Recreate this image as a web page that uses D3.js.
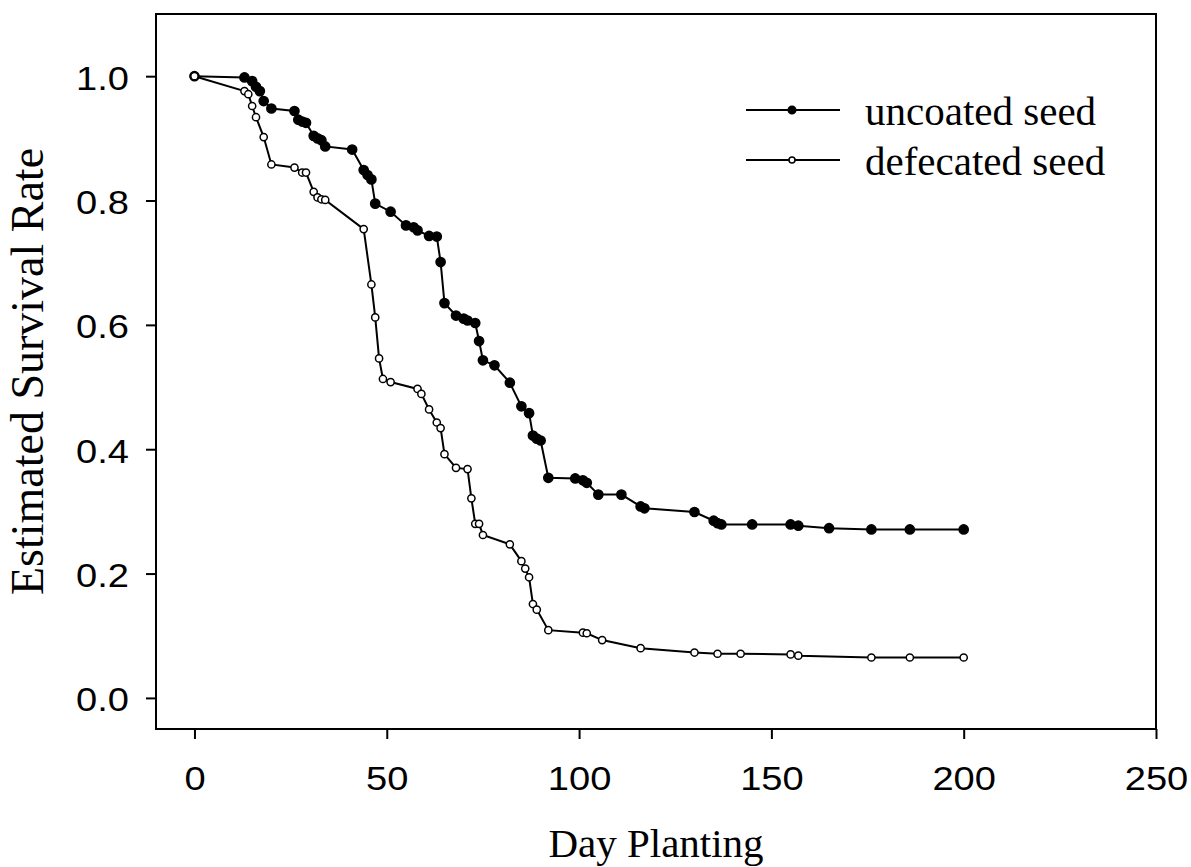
<!DOCTYPE html>
<html>
<head>
<meta charset="utf-8">
<script src="https://cdn.jsdelivr.net/npm/d3@7"></script>
<style>
  body { margin: 0; background: #fff; }
  svg { display: block; }
</style>
</head>
<body>
<svg id="chart"></svg>
<script>
// Data
const seriesNames = ["uncoated seed", "defecated seed"];

const uncoatedDays = [0, 13, 15, 16, 17, 18, 20, 26, 27, 28, 29, 31, 32, 33, 34, 41, 44, 45, 46, 47,
  51, 55, 57, 58, 61, 63, 64, 65, 68, 70, 71, 73, 74, 75, 78, 82, 85, 87, 88, 89, 90, 92, 99, 101,
  102, 105, 111, 116, 117, 130, 135, 136, 137, 145, 155, 157, 165, 176, 186, 200];
const uncoatedRate = [1.0, 0.998, 0.992, 0.983, 0.976, 0.960, 0.948, 0.944, 0.930, 0.927, 0.925,
  0.904, 0.900, 0.897, 0.887, 0.882, 0.849, 0.841, 0.834, 0.795, 0.782, 0.760, 0.757, 0.752, 0.743,
  0.742, 0.701, 0.635, 0.615, 0.610, 0.607, 0.603, 0.574, 0.543, 0.535, 0.507, 0.469, 0.458, 0.422,
  0.417, 0.414, 0.354, 0.353, 0.350, 0.346, 0.327, 0.327, 0.308, 0.305, 0.299, 0.285, 0.281, 0.279,
  0.279, 0.279, 0.277, 0.273, 0.271, 0.271, 0.271];

const defecatedDays = [0, 13, 14, 15, 16, 18, 20, 26, 28, 29, 31, 32, 33, 34, 44, 46, 47, 48, 49,
  51, 58, 59, 61, 63, 64, 65, 68, 71, 72, 73, 74, 75, 82, 85, 86, 87, 88, 89, 92, 101, 102, 106,
  116, 130, 136, 142, 155, 157, 176, 186, 200];
const defecatedRate = [1.0, 0.976, 0.971, 0.952, 0.934, 0.902, 0.858, 0.853, 0.845, 0.845, 0.814,
  0.805, 0.802, 0.801, 0.754, 0.665, 0.612, 0.546, 0.513, 0.508, 0.497, 0.489, 0.464, 0.443, 0.434,
  0.392, 0.370, 0.368, 0.321, 0.280, 0.280, 0.262, 0.247, 0.220, 0.208, 0.194, 0.151, 0.142, 0.109,
  0.105, 0.104, 0.093, 0.080, 0.073, 0.071, 0.071, 0.070, 0.068, 0.065, 0.065, 0.065];

const xTicks = [0, 50, 100, 150, 200, 250];
const yTicks = [0.0, 0.2, 0.4, 0.6, 0.8, 1.0];

// Layout
const width = 1191, height = 867;
const margin = { top: 14, right: 35, bottom: 138, left: 156 };
const innerW = width - margin.left - margin.right;
const innerH = height - margin.top - margin.bottom;

const svg = d3.select("#chart").attr("width", width).attr("height", height);
const chart = svg.append("g").attr("transform", `translate(${margin.left},${margin.top})`);

const xScale = d3.scaleLinear().domain([-10, 250]).range([0, innerW]);
const yScale = d3.scaleLinear().domain([-0.05, 1.1]).range([innerH, 0]);

const sansFont = "'Liberation Sans', Arial, Helvetica, sans-serif";
const serifFont = "'Liberation Serif', 'Times New Roman', serif";

// x axis
const xAxisG = chart.append("g")
  .attr("transform", `translate(0,${innerH})`)
  .call(d3.axisBottom(xScale).tickValues(xTicks).tickSize(10).tickSizeOuter(0).tickFormat(d3.format("d")));
xAxisG.select(".domain").remove();
xAxisG.selectAll("line").attr("stroke", "#000").attr("stroke-width", 2);
xAxisG.selectAll("text")
  .attr("y", 0).attr("dy", 0)
  .attr("transform", "translate(0,61) scale(1.12,1)")
  .style("font-family", sansFont).style("font-size", "34px").attr("fill", "#000");

// y axis
const yAxisG = chart.append("g")
  .call(d3.axisLeft(yScale).tickValues(yTicks).tickSize(10).tickSizeOuter(0).tickFormat(d3.format(".1f")));
yAxisG.select(".domain").remove();
yAxisG.selectAll("line").attr("stroke", "#000").attr("stroke-width", 2);
yAxisG.selectAll("text")
  .attr("x", 0).attr("dy", 0)
  .attr("transform", "translate(-27,13) scale(1.12,1)")
  .style("font-family", sansFont).style("font-size", "34px").attr("fill", "#000");

// frame
chart.append("rect")
  .attr("width", innerW).attr("height", innerH)
  .attr("fill", "none").attr("stroke", "#000").attr("stroke-width", 2);

// axis titles
svg.append("text")
  .attr("x", margin.left + innerW / 2).attr("y", 857)
  .attr("text-anchor", "middle")
  .style("font-family", serifFont).style("font-size", "41px")
  .text("Day Planting");

svg.append("text")
  .attr("transform", `translate(43,${margin.top + innerH / 2}) rotate(-90)`)
  .attr("text-anchor", "middle")
  .style("font-family", serifFont).style("font-size", "46px")
  .text("Estimated Survival Rate");

// series
const series = [
  { name: seriesNames[0], days: uncoatedDays, rate: uncoatedRate, fill: "#000", r: 4.6 },
  { name: seriesNames[1], days: defecatedDays, rate: defecatedRate, fill: "#fff", r: 3.6 }
];

const line = d3.line().x(d => xScale(d[0])).y(d => yScale(d[1]));

series.forEach(s => {
  const pts = s.days.map((d, i) => [d, s.rate[i]]);
  chart.append("path")
    .datum(pts)
    .attr("d", line)
    .attr("fill", "none").attr("stroke", "#000").attr("stroke-width", 2);
  chart.selectAll(null)
    .data(pts)
    .join("circle")
    .attr("cx", d => xScale(d[0]))
    .attr("cy", d => yScale(d[1]))
    .attr("r", s.r)
    .attr("fill", s.fill).attr("stroke", "#000").attr("stroke-width", 1.5);
});

// legend
const legend = svg.append("g").attr("transform", "translate(746,110)");
series.forEach((s, i) => {
  const g = legend.append("g").attr("transform", `translate(0,${i * 50})`);
  g.append("line").attr("x1", 0).attr("x2", 94).attr("y1", 0).attr("y2", 0)
    .attr("stroke", "#000").attr("stroke-width", 2);
  g.append("circle").attr("cx", 46).attr("cy", 0).attr("r", i === 0 ? 3.8 : 3)
    .attr("fill", s.fill).attr("stroke", "#000").attr("stroke-width", 1.5);
  g.append("text").attr("x", 119).attr("y", 15)
    .style("font-family", serifFont).style("font-size", "41px")
    .text(s.name);
});
</script>
</body>
</html>
